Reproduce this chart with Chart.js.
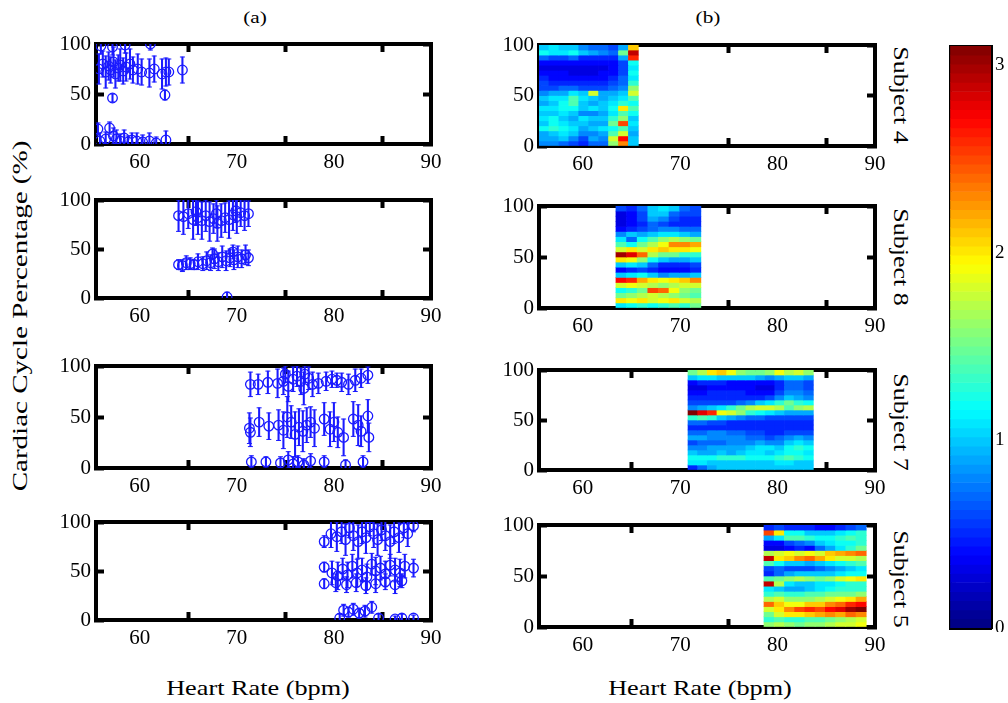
<!DOCTYPE html>
<html>
<head>
<meta charset="utf-8">
<script src="https://cdn.jsdelivr.net/npm/chart.js@4.4.1/dist/chart.umd.min.js"></script>
<style>
  body { margin: 0; background: #fff; width: 1008px; height: 703px; position: relative; overflow: hidden; }
  .panel { position: absolute; }
  .lbl { position: absolute; white-space: nowrap; color: #000; font-family: 'Liberation Serif', serif; line-height: 1; }
</style>
</head>
<body>
<div class="lbl" style="left:255px;top:17px;font-size:17px;transform:translate(-50%,-50%) scaleX(1.25)">(a)</div>
<div class="lbl" style="left:708px;top:17px;font-size:17px;transform:translate(-50%,-50%) scaleX(1.25)">(b)</div>
<div class="lbl" style="left:20px;top:316px;font-size:22px;transform:translate(-50%,-50%) rotate(-90deg) scaleX(1.32)">Cardiac Cycle Percentage (%)</div>
<div class="lbl" style="left:258px;top:688px;font-size:21px;transform:translate(-50%,-50%) scaleX(1.25)">Heart Rate (bpm)</div>
<div class="lbl" style="left:700px;top:688px;font-size:21px;transform:translate(-50%,-50%) scaleX(1.25)">Heart Rate (bpm)</div>
<div class="lbl" style="left:900px;top:95px;font-size:21px;transform:translate(-50%,-50%) rotate(90deg) scaleX(1.24)">Subject 4</div>
<div class="lbl" style="left:900px;top:257px;font-size:21px;transform:translate(-50%,-50%) rotate(90deg) scaleX(1.24)">Subject 8</div>
<div class="lbl" style="left:900px;top:422px;font-size:21px;transform:translate(-50%,-50%) rotate(90deg) scaleX(1.24)">Subject 7</div>
<div class="lbl" style="left:900px;top:579px;font-size:21px;transform:translate(-50%,-50%) rotate(90deg) scaleX(1.24)">Subject 5</div>

<script>
// (a) heart rate / cycle position / spread, per subject
const hrS4 = [55.8,56.2,56.5,56.8,57.0,57.3,57.5,57.8,58.0,58.3,58.6,59.0,59.3,59.8,60.2,61.0,61.5,62.3,62.7,63.0,64.4,
  56.0,57.2,58.5,61.1, 57.2,62.6,
  55.7,55.9,56.5,56.9,57.3,57.6,58.0,58.4,58.8,59.2,59.7,60.3,61.0,61.7,62.7];
const cycS4 = [75,80,72,78,74,82,70,76,79,73,77,80,74,75,72,71,75,70,72,72,74,
  98,97,99,100, 46,49,
  15,3,5,16,8,5,3,6,2,4,3,2,3,1,4];
const errS4 = [15,13,16,14,13,15,14,13,16,13,14,15,13,15,13,14,13,15,14,13,13,
  8,8,8,6, 4,5,
  6,8,7,6,8,9,7,8,6,7,8,7,8,6,9];

const hrS8 = [64.0,64.5,65.0,65.5,65.8,66.0,66.4,66.8,67.2,67.6,67.9,68.0,68.4,68.8,69.2,69.6,69.9,70.0,70.4,70.8,71.2,
  64.0,64.4,64.8,65.2,65.6,66.0,66.5,66.9,67.3,67.5,67.7,68.1,68.5,68.9,69.3,69.6,69.7,70.1,70.5,70.9,71.2, 69.0];
const cycS8 = [84,83,86,80,88,82,79,84,78,81,86,76,79,82,80,85,89,83,87,84,86,
  34,33,36,35,34,37,35,38,36,45,40,37,42,38,41,47,39,42,40,44,41, 1];
const errS8 = [16,18,15,20,14,17,19,16,20,15,14,18,17,15,19,16,12,17,14,15,13,
  5,6,7,6,5,8,7,9,8,6,10,9,11,10,9,7,10,11,9,10,8, 5];

const hrS7 = [71.4,72.2,73.2,74.2,74.8,75.0,75.3,75.8,76.2,76.6,76.9,77.0,77.4,77.8,78.4,79.2,79.8,80.3,80.8,81.5,82.2,82.8,83.5,
  71.3,71.4,72.3,73.3,74.3,74.8,75.2,75.6,76.0,76.4,76.8,77.2,77.6,78.0,79.0,79.6,80.0,80.4,81.0,82.0,82.5,82.8,83.5,83.6,
  71.5,73.0,74.5,75.3,75.8,76.3,76.9,77.6,79.0,81.2,83.0];
const cycS7 = [82,82,84,83,85,92,80,87,90,85,78,92,88,82,83,85,87,86,84,82,86,88,91,
  39,35,45,41,42,37,50,45,33,40,36,42,45,39,48,38,45,35,30,48,42,36,51,30,
  6,6,5,8,4,6,3,7,6,3,6];
const errS7 = [12,10,11,14,13,8,15,12,10,13,16,8,11,12,10,9,8,7,9,10,11,9,8,
  15,14,14,13,15,18,20,16,22,18,20,17,15,18,16,17,19,15,18,17,20,15,16,14,
  6,5,6,8,7,6,6,7,6,5,6];

const hrS5 = [79.0,79.7,80.3,80.8,81.2,81.6,82.0,82.5,82.9,83.3,83.7,84.1,84.5,84.9,85.3,85.8,86.2,86.7,87.2,87.6,88.2,
  79.0,79.8,80.4,80.9,81.4,81.9,82.4,82.9,83.4,83.9,84.3,84.8,85.3,85.8,86.3,86.8,87.3,88.2,
  79.0,80.2,81.3,82.3,83.3,84.3,85.3,86.3,87.0,
  80.6,81.0,81.5,82.0,82.6,83.2,83.9,84.6,86.3,87.0,88.2];
const cycS5 = [80,88,85,90,82,94,86,80,90,84,95,88,82,92,86,80,90,84,94,88,96,
  54,48,45,52,46,55,48,51,44,57,50,53,47,56,51,48,55,53,
  37,38,36,38,35,37,39,36,40,
  2,10,8,11,7,9,13,2,1,2,2];
const errS5 = [6,14,15,12,16,10,15,17,12,16,9,14,16,11,15,17,12,15,10,13,6,
  5,12,14,11,13,12,14,12,13,11,14,12,13,11,12,14,12,9,
  5,9,8,9,8,9,8,9,7,
  4,6,5,6,5,6,6,4,3,4,3];

// (b) heat maps, rows from 100% (top) down to 0%, columns left to right
const heat4Start = 55.5, heat4Width = 1.02;
const heat4 = [
  [1.0,1.1,1.0,1.0,0.8,0.7,0.7,0.6,0.9,2.1],
  [1.2,1.1,1.1,1.2,1.0,0.9,0.8,0.7,1.5,2.9],
  [0.7,0.6,0.6,0.7,0.5,0.5,0.5,0.5,0.9,2.6],
  [0.4,0.4,0.4,0.4,0.4,0.4,0.4,0.4,0.6,1.2],
  [0.3,0.3,0.3,0.3,0.3,0.3,0.3,0.4,0.6,1.1],
  [0.4,0.4,0.4,0.3,0.3,0.3,0.4,0.4,0.6,1.2],
  [0.5,0.4,0.4,0.4,0.4,0.4,0.4,0.5,0.7,1.1],
  [0.6,0.5,0.5,0.5,0.5,0.5,0.5,0.6,0.7,1.3],
  [0.6,0.6,0.7,0.7,0.6,0.6,0.6,0.7,0.8,1.6],
  [0.8,0.9,0.9,1.1,1.0,1.8,0.9,0.9,1.0,1.8],
  [1.0,1.1,1.1,1.4,1.1,1.0,0.9,1.0,1.1,1.4],
  [0.9,1.0,1.2,1.4,1.0,0.9,1.0,1.1,1.3,1.2],
  [1.1,1.1,1.2,1.2,1.0,1.1,1.0,1.2,2.0,1.4],
  [1.0,1.0,1.1,1.0,0.8,0.8,0.9,1.1,1.4,1.2],
  [1.1,1.2,1.0,0.9,1.1,1.0,1.0,1.3,1.6,1.0],
  [1.0,1.2,1.1,1.0,1.0,0.9,0.9,1.5,2.5,1.1],
  [1.2,1.3,1.2,1.1,0.9,1.0,1.1,1.2,1.4,1.0],
  [0.9,1.0,1.1,1.0,0.8,0.8,0.9,1.4,1.8,0.9],
  [0.9,0.9,1.0,0.8,0.6,0.9,0.8,1.8,2.7,1.0],
  [0.8,0.8,0.7,0.6,0.5,0.7,0.7,1.6,2.3,1.0]
];
const heat8Start = 63.4, heat8Width = 1.09;
const heat8 = [
  [0.6,0.5,0.7,1.0,1.1,1.0,0.7,0.6],
  [0.3,0.4,0.6,1.0,1.0,0.7,0.6,0.6],
  [0.3,0.4,0.6,0.9,0.8,0.6,0.5,0.5],
  [0.3,0.4,0.5,0.7,0.6,0.5,0.5,0.5],
  [0.4,0.5,0.6,0.7,0.8,0.8,0.7,0.7],
  [0.8,1.0,0.9,1.0,1.1,1.1,1.0,0.9],
  [1.1,0.7,1.2,1.4,1.6,1.7,1.6,1.5],
  [1.4,1.2,1.5,1.7,1.9,2.3,2.3,2.2],
  [1.8,2.0,1.8,2.0,2.1,2.0,2.0,1.9],
  [3.0,2.8,2.4,1.7,1.5,1.5,1.3,1.3],
  [2.0,1.9,1.6,1.2,1.0,0.9,0.9,1.0],
  [1.0,1.1,1.0,0.7,0.5,0.5,0.5,0.6],
  [0.4,0.5,0.6,0.5,0.4,0.4,0.4,0.5],
  [1.0,1.1,1.2,1.0,0.8,0.9,0.9,1.0],
  [2.7,2.6,2.2,2.0,1.9,2.0,2.1,2.3],
  [1.8,1.9,1.8,1.7,1.6,1.7,1.8,1.8],
  [1.2,1.3,1.5,2.5,2.4,1.9,1.6,1.5],
  [1.5,1.6,1.7,1.8,1.7,1.6,1.5,1.4],
  [2.0,1.9,2.0,1.8,1.9,2.0,1.8,1.7],
  [1.1,1.2,1.3,1.2,1.3,1.4,1.3,1.5]
];
const heat7Start = 70.8, heat7Width = 0.99;
const heat7 = [
  [1.5,1.7,2.0,2.1,1.9,1.6,1.5,1.5,1.6,1.9,1.7,1.8,1.6],
  [1.0,1.1,1.1,1.0,1.0,1.0,1.0,0.9,0.8,0.9,1.0,1.0,0.9],
  [0.4,0.5,0.5,0.5,0.4,0.4,0.4,0.4,0.4,0.5,0.7,0.7,0.6],
  [0.3,0.3,0.4,0.4,0.4,0.4,0.4,0.3,0.3,0.5,0.7,0.7,0.6],
  [0.4,0.4,0.5,0.5,0.5,0.5,0.4,0.4,0.4,0.6,0.8,0.8,0.7],
  [0.5,0.5,0.5,0.5,0.5,0.5,0.5,0.5,0.6,0.8,1.0,0.9,0.8],
  [0.6,0.6,0.6,0.6,0.6,0.7,0.8,1.0,1.1,1.3,1.5,1.3,1.2],
  [0.8,0.9,1.0,1.1,1.3,1.5,1.7,1.8,1.8,1.7,1.4,1.6,1.7],
  [3.1,2.8,2.6,1.9,1.8,1.6,1.3,1.2,1.1,1.0,0.9,0.9,0.9],
  [1.3,1.4,1.3,1.0,0.9,0.8,0.7,0.7,0.6,0.6,0.6,0.6,0.6],
  [0.7,0.7,0.6,0.6,0.5,0.5,0.5,0.5,0.5,0.5,0.5,0.5,0.5],
  [0.5,0.5,0.5,0.5,0.5,0.5,0.5,0.5,0.5,0.5,0.5,0.5,0.5],
  [0.7,0.7,0.8,0.8,0.7,0.7,0.6,0.6,0.5,0.5,0.6,0.6,0.6],
  [0.9,0.9,0.8,0.8,0.8,0.8,0.7,0.7,0.6,0.7,0.8,0.9,0.8],
  [0.6,0.7,0.7,0.7,0.8,0.8,0.8,0.9,0.8,0.8,1.0,1.1,1.0],
  [0.8,0.8,0.9,0.9,0.9,0.9,1.0,1.1,1.1,1.0,1.2,1.3,1.2],
  [1.0,0.9,0.9,1.0,0.9,1.0,1.1,1.1,1.0,1.1,1.2,1.2,1.1],
  [1.2,1.2,1.2,1.3,1.3,1.3,1.2,1.2,1.2,1.3,1.4,1.3,1.2],
  [1.1,1.1,1.0,1.0,1.0,1.0,1.0,1.0,1.0,1.1,1.1,1.0,1.0],
  [0.5,0.7,0.9,1.0,1.0,1.0,1.0,1.0,1.0,1.0,1.0,1.0,1.0]
];
const heat5Start = 78.6, heat5Width = 1.05;
const heat5 = [
  [0.5,0.6,0.5,0.5,0.5,0.4,0.4,0.5,0.6,0.7],
  [2.5,2.0,1.2,1.2,1.0,1.0,1.0,1.1,1.2,1.3],
  [0.9,1.1,1.4,1.4,1.3,1.2,1.2,1.3,1.4,1.3],
  [0.4,0.4,0.6,0.7,0.8,1.0,1.1,1.2,1.2,1.3],
  [0.3,0.3,0.4,0.5,0.4,0.7,0.9,1.1,1.3,1.5],
  [1.7,1.8,1.9,1.8,1.9,1.8,2.1,2.2,2.3,2.4],
  [2.9,2.0,2.1,2.3,2.4,2.2,2.0,1.8,1.8,1.7],
  [1.4,1.2,1.0,1.0,0.9,1.0,1.1,1.2,1.3,1.4],
  [0.6,0.7,0.6,0.6,0.6,0.7,0.8,0.9,1.0,1.1],
  [0.5,0.7,0.9,1.0,1.0,1.0,1.0,1.1,1.2,1.2],
  [1.4,1.5,1.6,1.7,1.6,1.5,1.6,1.8,1.9,2.0],
  [2.9,1.7,1.1,1.0,1.0,1.1,1.1,1.2,1.3,1.3],
  [1.1,1.0,0.9,0.9,1.0,1.1,1.2,1.3,1.3,1.3],
  [1.3,1.4,1.3,1.3,1.4,1.4,1.5,1.5,1.5,1.6],
  [1.7,1.8,1.6,1.6,1.6,1.7,1.8,1.9,2.0,2.2],
  [2.4,2.1,1.9,1.9,2.1,2.1,2.3,2.4,2.6,2.7],
  [1.8,2.0,2.3,2.5,2.6,2.5,2.7,2.8,3.0,3.1],
  [1.5,1.8,2.0,2.0,2.1,2.2,2.3,2.2,2.4,2.3],
  [1.3,1.4,1.3,1.3,1.4,1.4,1.5,1.6,1.7,1.8],
  [1.6,1.7,1.6,1.5,1.6,1.6,1.7,1.8,1.8,1.9]
];

// colour scale
const cmax = 3.1;
const cbarTickLabels = [0, 1, 2, 3];
const cbarSteps = 64;

const BLUE = '#1a1aff';
const tickFont = { family: 'Liberation Serif', size: 21 };
const PAD_T = 12, PAD_R = 14;

function jet(v) {
  const t = Math.max(0, Math.min(1, v / cmax));
  const c = k => Math.round(255 * Math.max(0, Math.min(1, 1.5 - Math.abs(4 * t - k))));
  return `rgb(${c(3)},${c(2)},${c(1)})`;
}

// area = [left, right, top, bottom] of the plot box
function makeCanvas(area, yw, rw, th, bh) {
  const div = document.createElement('div');
  div.className = 'panel';
  div.style.left = (area[0] - yw) + 'px';
  div.style.top = (area[2] - th - PAD_T) + 'px';
  const cv = document.createElement('canvas');
  cv.width = area[1] - area[0] + yw + rw + PAD_R;
  cv.height = area[3] - area[2] + th + bh + PAD_T;
  div.appendChild(cv);
  document.body.appendChild(div);
  return cv.getContext('2d');
}

// fixed box size, no extra room for overhanging tick labels
function fixSize(w, h) {
  return s => {
    if (w !== null) s.width = w;
    if (h !== null) s.height = h;
    s.paddingLeft = 0; s.paddingRight = 0; s.paddingTop = 0; s.paddingBottom = 0;
  };
}

function frameScales() {
  const grid = { drawOnChartArea: false, drawTicks: true, tickLength: -8, tickWidth: 4, tickColor: '#000' };
  const border = { display: true, width: 4, color: '#000' };
  const xt = { stepSize: 10, includeBounds: false, autoSkip: false, maxRotation: 0 };
  const yt = { stepSize: 50, includeBounds: false, autoSkip: false };
  return {
    x: { type: 'linear', position: 'bottom', min: 55.5, max: 90, offset: false, z: 1, grid, border,
         ticks: { ...xt, color: '#000', font: tickFont, padding: 14 }, afterFit: fixSize(null, 30) },
    x2: { type: 'linear', position: 'top', min: 55.5, max: 90, offset: false, z: 1, grid, border,
          ticks: { ...xt, display: false }, afterFit: fixSize(null, 6) },
    y: { type: 'linear', position: 'left', min: 0, max: 100, offset: false, z: 1, grid, border,
         ticks: { ...yt, color: '#000', font: tickFont, padding: 13 }, afterFit: fixSize(50, null) },
    y2: { type: 'linear', position: 'right', min: 0, max: 100, offset: false, z: 1, grid, border,
          ticks: { ...yt, display: false }, afterFit: fixSize(6, null) }
  };
}

const baseOptions = {
  responsive: false, animation: false, devicePixelRatio: 1, events: [],
  layout: { padding: { top: PAD_T, right: PAD_R, left: 0, bottom: 0 }, autoPadding: false },
  plugins: { legend: { display: false }, tooltip: { enabled: false } }
};

function scatterPanel(area, hr, cyc, err) {
  const ctx = makeCanvas(area, 50, 6, 6, 30);
  const bars = hr.map((x, i) => ({ x, y: [cyc[i] - err[i], cyc[i] + err[i]] }));
  const caps = [];
  hr.forEach((x, i) => { caps.push({ x, y: cyc[i] - err[i] }, { x, y: cyc[i] + err[i] }); });
  const pts = hr.map((x, i) => ({ x, y: cyc[i] }));
  new Chart(ctx, {
    type: 'bar',
    data: { datasets: [
      { type: 'bar', data: bars, backgroundColor: BLUE, barThickness: 1.4, grouped: false, borderWidth: 0, xAxisID: 'x', yAxisID: 'y' },
      { type: 'scatter', data: caps, pointStyle: 'line', radius: 2.5, borderColor: BLUE, borderWidth: 1, xAxisID: 'x', yAxisID: 'y' },
      { type: 'scatter', data: pts, pointStyle: 'circle', radius: 4.8, borderColor: BLUE, backgroundColor: 'rgba(0,0,0,0)', borderWidth: 1.3, xAxisID: 'x', yAxisID: 'y' }
    ] },
    options: { ...baseOptions, scales: frameScales() }
  });
}

function heatPanel(area, start, width, rows) {
  const ctx = makeCanvas(area, 50, 6, 6, 30);
  const rh = 100 / rows.length;
  const datasets = rows.map((row, r) => ({
    data: row.map((v, c) => ({ x: start + (c + 0.5) * width, y: [100 - (r + 1) * rh, 100 - r * rh] })),
    backgroundColor: row.map(jet),
    borderWidth: 0, grouped: false, barPercentage: 1, categoryPercentage: 1,
    xAxisID: 'x', yAxisID: 'y'
  }));
  new Chart(ctx, { type: 'bar', data: { datasets }, options: { ...baseOptions, scales: frameScales() } });
}

function colorbar(area) {
  const ctx = makeCanvas(area, 4, 30, 4, 4);
  const step = cmax / cbarSteps;
  const segs = [], cols = [];
  for (let i = 0; i < cbarSteps; i++) {
    segs.push({ y: (i + 0.5) * step, x: [0, 1] });
    cols.push(jet((i + 0.5) * step));
  }
  const grid = { drawOnChartArea: false, drawTicks: true, tickLength: -6, tickWidth: 2, tickColor: '#000' };
  const border = { display: true, width: 3, color: '#000' };
  const yt = { stepSize: 0.5, includeBounds: false, autoSkip: false };
  new Chart(ctx, {
    type: 'bar',
    data: { datasets: [{ data: segs, backgroundColor: cols, borderWidth: 0, grouped: false, barPercentage: 1, categoryPercentage: 1, xAxisID: 'x', yAxisID: 'y' }] },
    options: { ...baseOptions, indexAxis: 'y', scales: {
      x: { type: 'linear', position: 'bottom', min: 0, max: 1, offset: false, z: 1, border, grid: { display: true, drawOnChartArea: false, drawTicks: false },
           ticks: { display: false }, afterFit: fixSize(null, 4) },
      x2: { type: 'linear', position: 'top', min: 0, max: 1, offset: false, z: 1, border, grid: { display: true, drawOnChartArea: false, drawTicks: false },
            ticks: { display: false }, afterFit: fixSize(null, 4) },
      y: { type: 'linear', position: 'left', min: 0, max: cmax, offset: false, z: 1, border, grid,
           ticks: { ...yt, display: false }, afterFit: fixSize(4, null) },
      y2: { type: 'linear', position: 'right', min: 0, max: cmax, offset: false, z: 1, border, grid,
            ticks: { ...yt, color: '#000', font: { family: 'Liberation Serif', size: 19 }, padding: 10,
                     callback: v => cbarTickLabels.includes(v) ? String(v) : '' },
            afterFit: fixSize(30, null) }
    } }
  });
}

scatterPanel([96, 431, 44, 144], hrS4, cycS4, errS4);
scatterPanel([96, 431, 200, 298], hrS8, cycS8, errS8);
scatterPanel([96, 431, 366, 468], hrS7, cycS7, errS7);
scatterPanel([96, 431, 522, 620], hrS5, cycS5, errS5);

heatPanel([539, 875, 45, 146], heat4Start, heat4Width, heat4);
heatPanel([539, 875, 206, 308], heat8Start, heat8Width, heat8);
heatPanel([539, 875, 370, 470], heat7Start, heat7Width, heat7);
heatPanel([539, 875, 525, 627], heat5Start, heat5Width, heat5);

colorbar([950, 991, 46, 628]);
</script>
</body>
</html>
